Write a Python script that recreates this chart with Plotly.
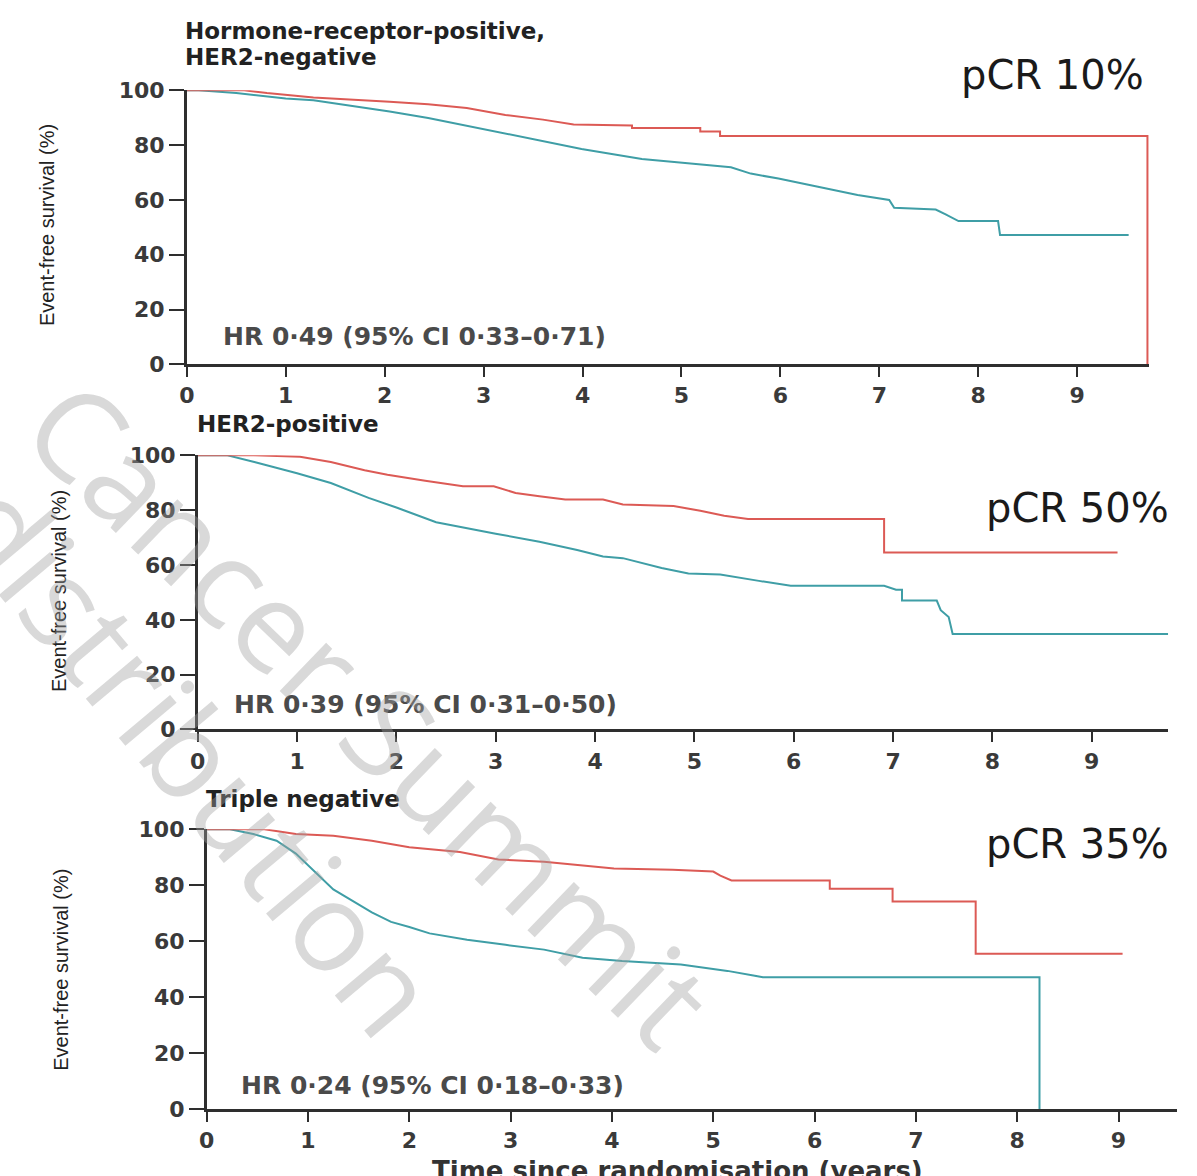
import plotly.graph_objects as go

# ---------------- data ----------------
# Panel 1: Hormone-receptor-positive, HER2-negative
p1_pcr_t = [0, 0.58, 0.81, 1.28, 2.05, 2.44, 2.83, 3.22, 3.6, 3.91, 4.5, 4.5, 5.19, 5.19, 5.39, 5.39, 9.71, 9.71]
p1_pcr_v = [100, 100, 99, 97.4, 95.8, 94.9, 93.5, 91, 89.3, 87.5, 87.2, 86.2, 86.2, 85, 85, 83.3, 83.3, 0]
p1_no_t = [0, 0.12, 0.5, 1.0, 1.28, 2.05, 2.44, 3.02, 3.6, 3.99, 4.6, 4.99, 5.5, 5.7, 5.98, 6.38, 6.78, 7.1,
           7.15, 7.57, 7.62, 7.67, 7.8, 8.2, 8.22, 9.52]
p1_no_v = [100, 100, 99, 97, 96.4, 92.3, 89.9, 85.7, 81.5, 78.6, 74.9, 73.5, 71.9, 69.6, 67.8, 64.8, 61.8, 60,
           57.1, 56.5, 55.5, 54.7, 52.3, 52.3, 47.2, 47.2]

# Panel 2: HER2-positive
p2_pcr_t = [0, 0.57, 1.03, 1.34, 1.68, 1.91, 2.29, 2.67, 2.98, 3.2, 3.44, 3.7, 4.08, 4.28, 4.79, 5.06, 5.3,
            5.54, 6.91, 6.91, 9.26]
p2_pcr_v = [100, 100, 99.5, 97.6, 94.6, 92.9, 90.7, 88.7, 88.7, 86.3, 85.1, 83.9, 83.9, 82.1, 81.5, 79.8, 78,
            76.8, 76.8, 64.6, 64.6]
p2_no_t = [0, 0.3, 0.57, 1.0, 1.34, 1.72, 2.0, 2.4, 3.0, 3.44, 3.82, 4.08, 4.28, 4.67, 4.94, 5.26, 5.65, 5.97,
           6.91, 7.03, 7.09, 7.09, 7.44, 7.48, 7.56, 7.6, 9.77]
p2_no_v = [100, 100, 97.6, 93.5, 89.9, 84.5, 81, 75.6, 71.4, 68.5, 65.5, 63.1, 62.5, 58.9, 56.9, 56.5, 54.2, 52.4,
           52.4, 51, 51, 47, 47, 43.5, 41, 34.8, 34.8]

# Panel 3: Triple negative
p3_pcr_t = [0, 0.57, 0.88, 1.25, 1.63, 2.0, 2.5, 2.88, 3.33, 3.71, 4.02, 4.6, 5.0, 5.07, 5.18, 6.15, 6.15, 6.77,
            6.77, 7.59, 7.59, 9.04]
p3_pcr_v = [100, 100, 98.3, 97.7, 95.9, 93.6, 91.9, 89.2, 88.4, 87.2, 86, 85.5, 84.9, 83.4, 81.7, 81.7, 78.7,
            78.7, 74.2, 74.2, 55.5, 55.5]
p3_no_t = [0, 0.23, 0.46, 0.69, 0.88, 1.06, 1.25, 1.44, 1.63, 1.82, 2.0, 2.2, 2.57, 2.95, 3.33, 3.71, 4.1, 4.68,
           4.87, 5.14, 5.41, 5.49, 8.22, 8.22]
p3_no_v = [100, 100, 98.3, 95.9, 91.3, 84.9, 78.5, 74.4, 70.3, 66.9, 65.1, 62.8, 60.5, 58.7, 57, 54.1, 52.9,
           51.7, 50.8, 49.4, 47.7, 47.1, 47.1, 0]

titles = ["Hormone-receptor-positive,", "HER2-positive", "Triple negative"]
title1_line2 = "HER2-negative"
pcr_labels = ["pCR 10%", "pCR 50%", "pCR 35%"]
hr_labels = ["HR 0·49 (95% CI 0·33–0·71)", "HR 0·39 (95% CI 0·31–0·50)", "HR 0·24 (95% CI 0·18–0·33)"]
y_title = "Event-free survival (%)"
x_title = "Time since randomisation (years)"
y_ticks = [0, 20, 40, 60, 80, 100]
x_ticks = [0, 1, 2, 3, 4, 5, 6, 7, 8, 9]
watermark = ["Cancer Summit", "distribution"]

# ---------------- layout geometry (pixels of the 1197x1176 page) ----------------
W, H = 1197, 1176
def fx(p): return p / W
def fy(p): return 1 - p / H

panels = [
    dict(x0=180, ppy=99.6, ytop=80, ybot=360, xmax=9.73),
    dict(x0=191, ppy=100.0, ytop=453, ybot=733, xmax=9.77),
    dict(x0=200, ppy=102.0, ytop=835, ybot=1121, xmax=9.58),
]

RED = "#dc5a55"
TEAL = "#3f9ea6"
AXC = "#2e2e2e"
TXT = "#3a3a3a"

series = [
    (p1_pcr_t, p1_pcr_v, p1_no_t, p1_no_v),
    (p2_pcr_t, p2_pcr_v, p2_no_t, p2_no_v),
    (p3_pcr_t, p3_pcr_v, p3_no_t, p3_no_v),
]

fig = go.Figure()
layout = dict(
    width=W, height=H, margin=dict(l=0, r=0, t=0, b=0),
    paper_bgcolor="white", plot_bgcolor="rgba(0,0,0,0)", showlegend=False,
)

tickfont = dict(family="DejaVu Sans", size=22, color=TXT, weight="bold")

for i, (p, s) in enumerate(zip(panels, series)):
    n = "" if i == 0 else str(i + 1)
    xa, ya = "x" + n, "y" + n
    pt, pv, nt, nv = s
    fig.add_trace(go.Scatter(x=nt, y=nv, mode="lines", line=dict(color=TEAL, width=2),
                             xaxis=xa, yaxis=ya, hoverinfo="skip"))
    fig.add_trace(go.Scatter(x=pt, y=pv, mode="lines", line=dict(color=RED, width=2),
                             xaxis=xa, yaxis=ya, hoverinfo="skip"))
    xend = p["x0"] + p["xmax"] * p["ppy"]
    layout["xaxis" + n] = dict(
        domain=[fx(p["x0"]), fx(xend)], range=[0, p["xmax"]], anchor=ya,
        showline=True, linecolor=AXC, linewidth=2.5, showgrid=False, zeroline=False,
        ticks="outside", ticklen=10, tickwidth=2, tickcolor=AXC,
        tickvals=x_ticks, ticktext=[str(v) for v in x_ticks], tickfont=tickfont,
    )
    layout["yaxis" + n] = dict(
        domain=[fy(p["ybot"]), fy(p["ytop"])], range=[0, 100], anchor=xa,
        showline=True, linecolor=AXC, linewidth=2.5, showgrid=False, zeroline=False,
        ticks="outside", ticklen=15, tickwidth=2, tickcolor=AXC,
        tickvals=y_ticks, ticktext=[str(v) for v in y_ticks], tickfont=tickfont,
    )

ann = []
tfont = dict(family="DejaVu Sans", size=23, color="#222222", weight="bold")
ann.append(dict(text=titles[0], x=fx(176), y=fy(19), xanchor="left", yanchor="middle", font=tfont))
ann.append(dict(text=title1_line2, x=fx(176), y=fy(46), xanchor="left", yanchor="middle", font=tfont))
ann.append(dict(text=titles[1], x=fx(188), y=fy(421), xanchor="left", yanchor="middle", font=tfont))
ann.append(dict(text=titles[2], x=fx(197), y=fy(804), xanchor="left", yanchor="middle", font=tfont))

pfont = dict(family="DejaVu Sans", size=40, color="#1a1a1a")
for lab, (xr, yc) in zip(pcr_labels, [(1146, 64), (1171, 507), (1171, 850)]):
    ann.append(dict(text=lab, x=fx(xr), y=fy(yc), xanchor="right", yanchor="middle", font=pfont))

hfont = dict(family="DejaVu Sans", size=25, color="#4a4a4a", weight="bold")
for lab, (xl, yc) in zip(hr_labels, [(214, 332), (226, 708), (233, 1097)]):
    ann.append(dict(text=lab, x=fx(xl), y=fy(yc), xanchor="left", yanchor="middle", font=hfont))

yfont = dict(family="Liberation Sans Narrow, Liberation Sans", size=20, color="#222222")
for (xc, yc) in [(40, 218), (52, 592), (54, 979)]:
    ann.append(dict(text=y_title, x=fx(xc), y=fy(yc), xanchor="center", yanchor="middle",
                    textangle=-90, font=yfont))

ann.append(dict(text=x_title, x=fx(674), y=fy(1167), xanchor="center", yanchor="top",
                font=dict(family="DejaVu Sans", size=26, color="#333333", weight="bold")))

wfont = dict(family="Open Sans", size=125, color="rgba(160,160,160,0.4)")
ann.append(dict(text=watermark[0], x=fx(365), y=fy(715), xanchor="center", yanchor="middle",
                textangle=44, font=wfont))
ann.append(dict(text=watermark[1], x=fx(190), y=fy(760), xanchor="center", yanchor="middle",
                textangle=50, font=wfont))

for a in ann:
    a.update(xref="paper", yref="paper", showarrow=False)
layout["annotations"] = ann

fig.update_layout(**layout)
fig.write_html("out.html", config={"displayModeBar": False},
               post_script="document.body.style.margin='0';")
